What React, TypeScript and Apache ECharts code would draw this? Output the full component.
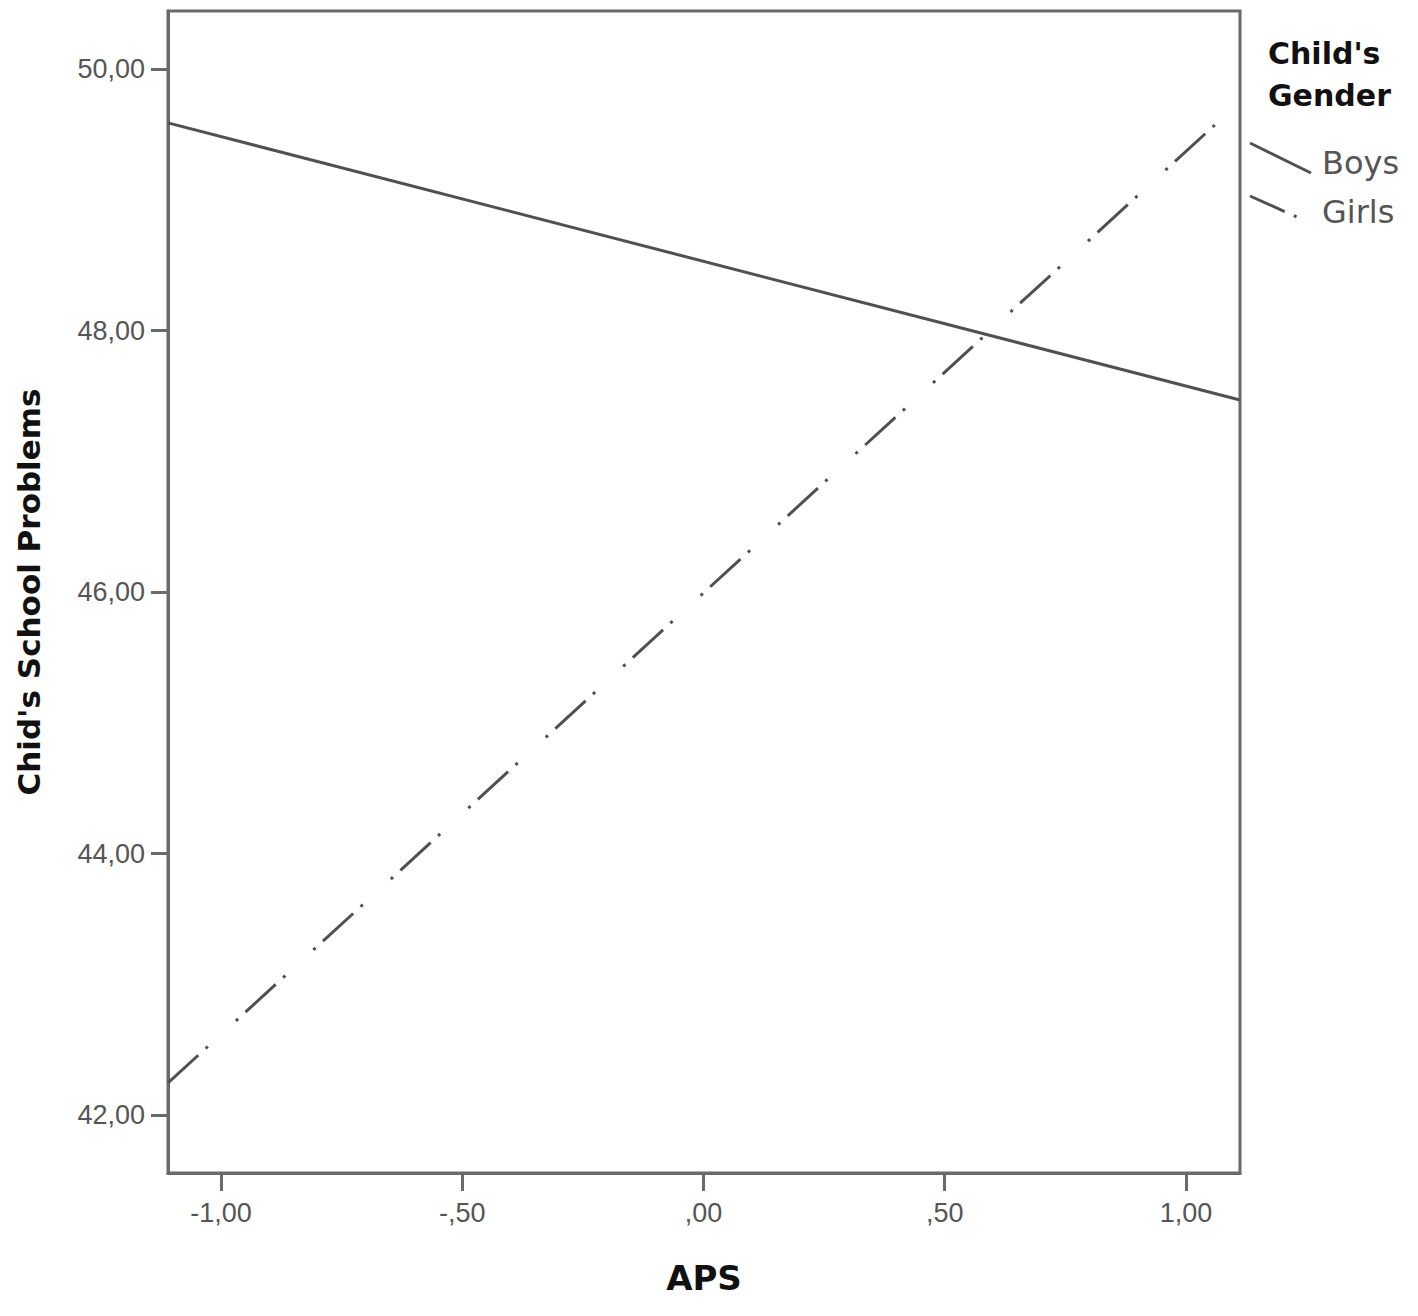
import React, { useEffect, useRef } from "react";
import * as echarts from "echarts";

const xEnds = [-1.11, 1.112];
const boysValues = [49.59, 47.47];
const girlsValues = [42.245, 49.75];
const xTicks = [-1, -0.5, 0, 0.5, 1];
const yTicks = [42, 44, 46, 48, 50];
const legendTitle = ["Child's", "Gender"];
const seriesNames = ["Boys", "Girls"];

function fmt(v: number): string {
  const a = Math.abs(v).toFixed(2).replace(".", ",");
  const s = a.startsWith("0,") ? a.slice(1) : a;
  return (v < 0 ? "-" : "") + s;
}

export default function App() {
  const ref = useRef<HTMLDivElement>(null);
  useEffect(() => {
    document.body.style.margin = "0";
    const chart = echarts.init(ref.current!, null, { renderer: "svg" });
    const lineColor = "#505050";
    const frameColor = "#6a6a6a";
    const labelFont = { fontFamily: "Liberation Sans", fontSize: 27, color: "#555" };
    chart.setOption({
      animation: false,
      backgroundColor: "#fff",
      grid: {
        left: 168,
        right: 178,
        top: 11,
        bottom: 143,
        show: true,
        borderColor: frameColor,
        borderWidth: 3,
        outerBoundsMode: "none",
      },
      xAxis: {
        type: "value",
        min: -1.11,
        max: 1.112,
        name: "APS",
        nameLocation: "middle",
        nameGap: 88,
        nameTextStyle: { fontFamily: "DejaVu Sans", fontWeight: "bold", fontSize: 34, color: "#111" },
        splitLine: { show: false },
        axisLine: { show: true, onZero: false, lineStyle: { color: frameColor, width: 3 } },
        axisTick: { show: true, length: 18, lineStyle: { color: frameColor, width: 3 }, customValues: xTicks },
        axisLabel: { ...labelFont, margin: 26, customValues: xTicks, formatter: (v: number) => fmt(v) },
      },
      yAxis: {
        type: "value",
        min: 41.556,
        max: 50.446,
        name: "Chid's School Problems",
        nameLocation: "middle",
        nameRotate: 90,
        nameGap: 124,
        nameTextStyle: { fontFamily: "DejaVu Sans", fontWeight: "bold", fontSize: 31, color: "#111" },
        splitLine: { show: false },
        axisLine: { show: true, onZero: false, lineStyle: { color: frameColor, width: 3 } },
        axisTick: { show: true, length: 17, lineStyle: { color: frameColor, width: 3 }, customValues: yTicks },
        axisLabel: { ...labelFont, margin: 23, customValues: yTicks, formatter: (v: number) => fmt(v) },
      },
      series: [
        {
          name: seriesNames[0],
          type: "line",
          symbol: "none",
          data: xEnds.map((x, i) => [x, boysValues[i]]),
          lineStyle: { color: lineColor, width: 3, type: "solid" },
        },
        {
          name: seriesNames[1],
          type: "line",
          symbol: "none",
          data: xEnds.map((x, i) => [x, girlsValues[i]]),
          lineStyle: { color: lineColor, width: 3, type: [41, 10, 3, 38, 3, 10] },
        },
      ],
      graphic: [
        {
          type: "text",
          left: 1268,
          top: 32,
          style: {
            text: legendTitle.join("\n"),
            fontFamily: "DejaVu Sans",
            fontWeight: "bold",
            fontSize: 30,
            lineHeight: 42,
            fill: "#111",
            align: "center",
          },
        },
        {
          type: "line",
          shape: { x1: 1250, y1: 143, x2: 1311, y2: 173 },
          style: { stroke: lineColor, lineWidth: 3 },
        },
        {
          type: "line",
          shape: { x1: 1250, y1: 196, x2: 1299, y2: 218 },
          style: { stroke: lineColor, lineWidth: 3, lineDash: [38, 10, 3, 30] },
        },
        {
          type: "text",
          x: 1322,
          y: 163,
          style: {
            text: seriesNames[0],
            fontFamily: "DejaVu Sans",
            fontSize: 32,
            fill: "#555",
            verticalAlign: "middle",
          },
        },
        {
          type: "text",
          x: 1322,
          y: 212,
          style: {
            text: seriesNames[1],
            fontFamily: "DejaVu Sans",
            fontSize: 32,
            fill: "#555",
            verticalAlign: "middle",
          },
        },
      ],
    });
    return () => chart.dispose();
  }, []);
  return <div ref={ref} style={{ width: 1418, height: 1316 }} />;
}
